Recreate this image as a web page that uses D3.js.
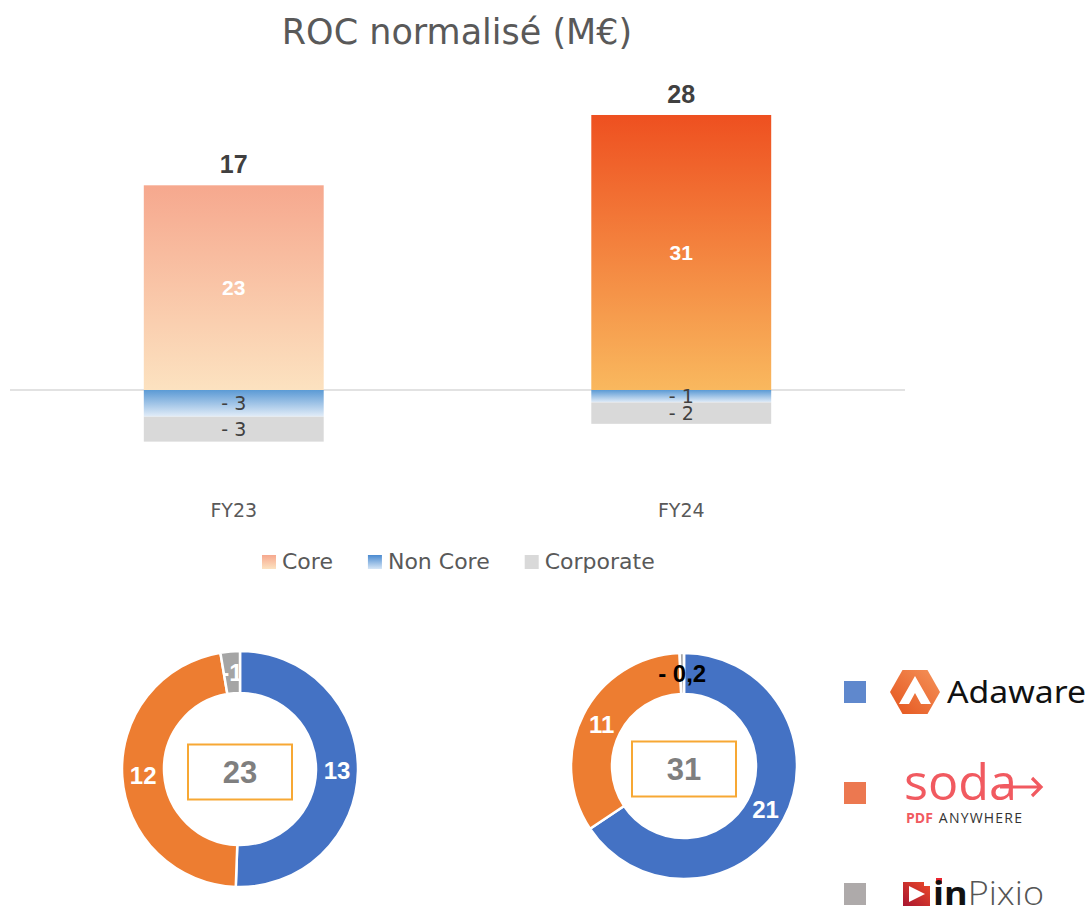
<!DOCTYPE html>
<html><head><meta charset="utf-8">
<script src="https://cdn.jsdelivr.net/npm/d3@7"></script>
<style>body{margin:0;background:#fff}</style>
</head><body>
<svg id="c" width="1090" height="914"></svg>
<script>
// ---------- DATA ----------
const title = "ROC normalisé (M€)";
const categories = ["FY23", "FY24"];
const seriesNames = ["Core", "Non Core", "Corporate"];
const coreValues = [23, 30.9];
const nonCoreValues = [-3.0, -1.4];
const corporateValues = [-2.8, -2.4];
const coreLabels = ["23", "31"];
const nonCoreLabels = ["- 3", "- 1"];
const corporateLabels = ["- 3", "- 2"];
const totalLabels = ["17", "28"];

const brands = ["Adaware", "Soda PDF", "inPixio"];
const donutFY23 = [13.3, 12.3, -0.7];
const donutFY24 = [21.2, 10.9, -0.2];
const donutLabelsFY23 = ["13", "12", "-1"];
const donutLabelsFY24 = ["21", "11", "- 0,2"];
const donutTotals = ["23", "31"];

// ---------- STYLE ----------
const svg = d3.select("#c");
const defs = svg.append("defs");
const TXT = "#404040", GREY = "#595959";
const sansW = "'DejaVu Sans', sans-serif";
const boldF = "'Liberation Sans', Arial, sans-serif";

function vGrad(id, stops) {
  const g = defs.append("linearGradient").attr("id", id)
    .attr("x1", 0).attr("y1", 0).attr("x2", 0).attr("y2", 1);
  stops.forEach(s => g.append("stop").attr("offset", s[0]).attr("stop-color", s[1]));
}
vGrad("core0", [[0, "#f6a88e"], [1, "#fce2c0"]]);
vGrad("core1", [[0, "#ee5020"], [1, "#f9b85e"]]);
vGrad("noncore", [[0, "#5b9bd5"], [0.15, "#6fa6da"], [1, "#e3edf8"]]);
vGrad("legCore", [[0, "#f6a88e"], [1, "#fce2c0"]]);
vGrad("legNon", [[0, "#4a8ad0"], [1, "#d6e6f6"]]);
const corpColor = "#d9d9d9";

// ---------- TITLE ----------
svg.append("text").attr("x", 457).attr("y", 44).attr("text-anchor", "middle")
  .attr("font-family", sansW).attr("font-size", 35).attr("fill", GREY).text(title);

// ---------- BAR CHART ----------
const x = d3.scaleBand().domain(categories).range([10, 905])
  .paddingInner(0.598).paddingOuter(0.299);
const y = d3.scaleLinear().domain([-10, 35]).range([479, 78.5]);

svg.append("line").attr("x1", 10).attr("x2", 905)
  .attr("y1", y(0)).attr("y2", y(0)).attr("stroke", "#d9d9d9").attr("stroke-width", 1.5);

const segs = [];
categories.forEach((c, i) => {
  segs.push({c, y0: 0, y1: coreValues[i], fill: `url(#core${i})`, label: coreLabels[i], lc: "#fff", bold: true});
  segs.push({c, y0: 0, y1: nonCoreValues[i], fill: "url(#noncore)", label: nonCoreLabels[i], lc: TXT, bold: false});
  segs.push({c, y0: nonCoreValues[i], y1: nonCoreValues[i] + corporateValues[i], fill: corpColor, label: corporateLabels[i], lc: TXT, bold: false});
});

svg.append("g").selectAll("rect").data(segs).join("rect")
  .attr("x", d => x(d.c)).attr("width", x.bandwidth())
  .attr("y", d => Math.min(y(d.y0), y(d.y1)))
  .attr("height", d => Math.abs(y(d.y0) - y(d.y1)))
  .attr("fill", d => d.fill);

svg.append("g").selectAll("text").data(segs).join("text")
  .attr("x", d => x(d.c) + x.bandwidth() / 2)
  .attr("y", d => (y(d.y0) + y(d.y1)) / 2)
  .attr("dy", "0.36em").attr("text-anchor", "middle")
  .attr("font-family", d => d.bold ? boldF : sansW)
  .attr("font-weight", d => d.bold ? "bold" : "normal")
  .attr("font-size", d => d.bold ? 21 : 19)
  .attr("fill", d => d.lc).text(d => d.label);

svg.append("g").selectAll("text").data(categories).join("text")
  .attr("x", (c) => x(c) + x.bandwidth() / 2)
  .attr("y", (c, i) => y(coreValues[i]) - 21).attr("dy", "0.36em")
  .attr("text-anchor", "middle").attr("font-family", boldF).attr("font-weight", "bold")
  .attr("font-size", 25).attr("fill", TXT).text((c, i) => totalLabels[i]);

// category axis labels
svg.append("g").selectAll("text").data(categories).join("text")
  .attr("x", c => x(c) + x.bandwidth() / 2).attr("y", 517)
  .attr("text-anchor", "middle").attr("font-family", sansW).attr("font-size", 19)
  .attr("fill", GREY).text(c => c);

// legend
const legFills = ["url(#legCore)", "url(#legNon)", corpColor];
let lx = 262;
seriesNames.forEach((n, i) => {
  svg.append("rect").attr("x", lx).attr("y", 555).attr("width", 14).attr("height", 14).attr("fill", legFills[i]);
  const t = svg.append("text").attr("x", lx + 20).attr("y", 569)
    .attr("font-family", sansW).attr("font-size", 22).attr("fill", GREY).text(n);
  lx += 20 + t.node().getComputedTextLength() + 35;
});

// ---------- DONUTS ----------
const brandColors = ["#4472c4", "#ed7d31", "#a5a5a5"];
const pie = d3.pie().sort(null).value(d => Math.abs(d.v));

function donut(cx, cy, rOut, rIn, values, labels, total, labelColors, clipSmall) {
  const g = svg.append("g").attr("transform", `translate(${cx},${cy})`);
  const arc = d3.arc().innerRadius(rIn).outerRadius(rOut);
  const arcs = pie(values.map((v, i) => ({v, i})));
  g.selectAll("path").data(arcs).join("path")
    .attr("d", arc).attr("fill", d => brandColors[d.data.i])
    .attr("stroke", "#fff").attr("stroke-width", 2.5);
  arcs.forEach((a, k) => {
    const c = arc.centroid(a);
    const t = svg.append("text").attr("x", cx + c[0]).attr("y", cy + c[1]).attr("dy", "0.36em")
      .attr("text-anchor", "middle").attr("font-family", boldF).attr("font-weight", "bold")
      .attr("font-size", 24).attr("fill", labelColors[k]).text(labels[k]);
    if (clipSmall && k === 2) {
      const id = "clip" + cx;
      defs.append("clipPath").attr("id", id).append("path")
        .attr("transform", `translate(${cx},${cy})`).attr("d", arc(a));
      t.attr("clip-path", `url(#${id})`);
    }
  });
  g.append("rect").attr("x", -52).attr("y", 3 - 27.5).attr("width", 104).attr("height", 55)
    .attr("fill", "#fff").attr("stroke", "#f7a834").attr("stroke-width", 2);
  g.append("text").attr("x", 0).attr("y", 3).attr("dy", "0.36em").attr("text-anchor", "middle")
    .attr("font-family", boldF).attr("font-weight", "bold").attr("font-size", 31)
    .attr("fill", "#7f7f7f").text(total);
}
donut(240, 769, 118, 76, donutFY23, donutLabelsFY23, donutTotals[0], ["#fff", "#fff", "#fff"], true);
donut(684, 766, 113, 72, donutFY24, donutLabelsFY24, donutTotals[1], ["#fff", "#fff", "#000"], false);

// ---------- BRAND LEGEND ----------
const legSq = ["#5f88cd", "#ec7850", "#aeaaaa"];
const legY = [681, 782, 883];
brands.forEach((b, i) => {
  svg.append("rect").attr("x", 844).attr("y", legY[i]).attr("width", 22).attr("height", 22).attr("fill", legSq[i]);
});

// Adaware logo
const hg = defs.append("linearGradient").attr("id", "hex").attr("x1", 1).attr("y1", 0).attr("x2", 0).attr("y2", 1);
hg.append("stop").attr("offset", 0).attr("stop-color", "#f5935a");
hg.append("stop").attr("offset", 1).attr("stop-color", "#e4541d");
svg.append("polygon").attr("points", "890,692 902.5,670 927.5,670 940,692 927.5,714 902.5,714").attr("fill", "url(#hex)");
svg.append("polygon").attr("points", "915,676 931,704 921,704 915,693 909,704 899,704").attr("fill", "#fff");
svg.append("text").attr("x", 947).attr("y", 703).attr("font-family", "'Noto Sans', sans-serif")
  .attr("font-weight", 400).attr("font-size", 31).attr("fill", "#111")
  .attr("textLength", 139).attr("lengthAdjust", "spacingAndGlyphs").text("Adaware");

// Soda logo
const coral = "#f15a60";
svg.append("text").attr("x", 904).attr("y", 800).attr("font-family", "'Open Sans', sans-serif")
  .attr("font-size", 50).attr("fill", coral)
  .attr("textLength", 113).attr("lengthAdjust", "spacingAndGlyphs").text("soda");
svg.append("path").attr("d", "M1000,787 L1041,787 M1032,778 L1041,787 L1032,796")
  .attr("fill", "none").attr("stroke", coral).attr("stroke-width", 3.2);
const st = svg.append("text").attr("x", 906).attr("y", 823).attr("font-family", "'Open Sans', sans-serif").attr("font-size", 14);
st.append("tspan").attr("fill", coral).attr("font-weight", "bold").text("PDF");
st.append("tspan").attr("fill", "#333").attr("dx", 6).attr("letter-spacing", 1.2).text("ANYWHERE");

// inPixio logo
const pg = defs.append("linearGradient").attr("id", "pix").attr("x1", 0).attr("y1", 1).attr("x2", 1).attr("y2", 0);
pg.append("stop").attr("offset", 0).attr("stop-color", "#a81530");
pg.append("stop").attr("offset", 1).attr("stop-color", "#ec4a2a");
svg.append("path").attr("d", "M903,882 L924,882 L924,886 L930,886 L930,906 L903,906 Z").attr("fill", "url(#pix)");
svg.append("rect").attr("x", 936).attr("y", 878).attr("width", 6).attr("height", 6).attr("fill", "#e8242e");
svg.append("polygon").attr("points", "909,886 925,894 909,902").attr("fill", "#fff");
const pt = svg.append("text").attr("x", 933).attr("y", 905).attr("font-family", "'Open Sans', sans-serif")
  .attr("font-size", 33).attr("textLength", 111).attr("lengthAdjust", "spacingAndGlyphs");
pt.append("tspan").attr("font-weight", "bold").attr("fill", "#111").text("in");
pt.append("tspan").attr("font-weight", 300).attr("fill", "#555").text("Pixio");
</script>
</body></html>
